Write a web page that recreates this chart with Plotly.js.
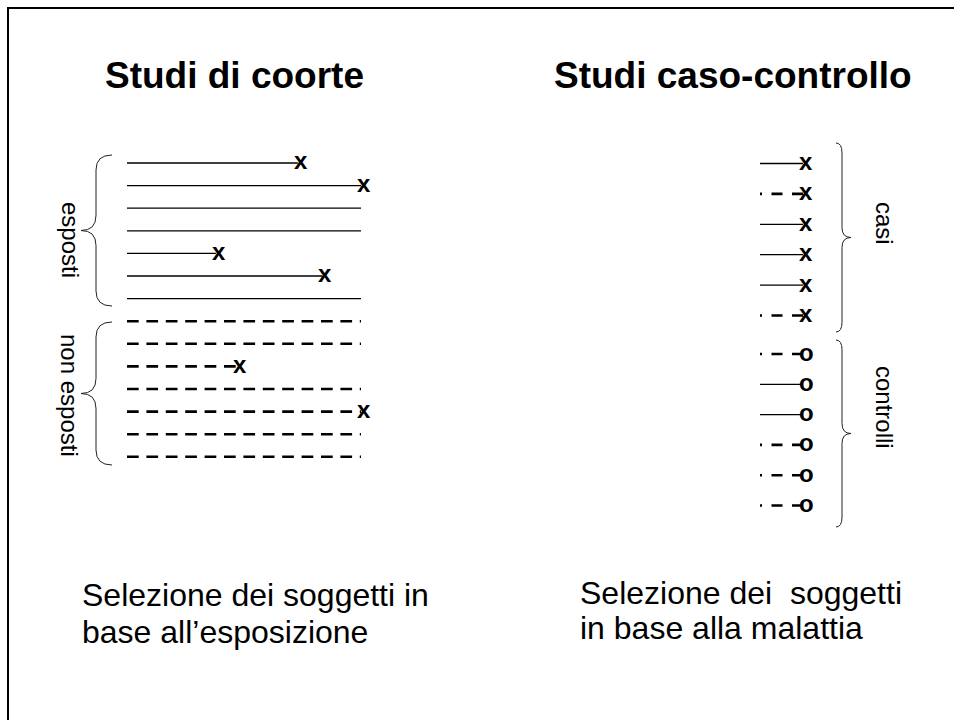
<!DOCTYPE html>
<html><head><meta charset="utf-8">
<script src="https://cdn.plot.ly/plotly-3.0.1.min.js"></script>
<style>html,body{margin:0;padding:0;background:#fff}#chart{width:954px;height:720px}</style>
</head><body><div id="chart"></div>
<script>
// ---------------- data ----------------
const titles = ['Studi di coorte', 'Studi caso-controllo'];
// cohort study: follow-up time (0-10) of each subject and whether the disease occurred
const exposedFollowUp   = [7.3, 10, 10, 10, 3.8, 8.35, 10];
const exposedEvent      = [1, 1, 0, 0, 1, 1, 0];
const unexposedFollowUp = [10, 10, 4.7, 10, 10, 10, 10];
const unexposedEvent    = [0, 0, 1, 0, 1, 0, 0];
const cohortLabels = ['esposti', 'non esposti'];
// case-control study: past exposure (1 = exposed) of cases and controls
const casesExposed    = [1, 0, 1, 1, 1, 0];
const controlsExposed = [0, 1, 1, 0, 0, 0];
const lookback = 1;
const ccLabels = ['casi', 'controlli'];
const eventSymbol = 'x', controlSymbol = 'o';
const captionLeft  = ['Selezione dei soggetti in', 'base all’esposizione'];
const captionRight = ['Selezione dei \u00a0soggetti', 'in base alla malattia'];

// ---------------- layout helpers ----------------
const W = 954, H = 720;
const px = v => v / W;
const py = v => 1 - v / H;
const FONT = 'Liberation Sans, Arial, sans-serif';
const SOLID_W = 1.3, DASH_W = 2.6;
const COHORT_DASH = '11.7px,7.7px', CC_DASH = '11px,9.5px';

const traces = [];
const annotations = [];

function markAnn(xref, yref, x, y, sym) {
  annotations.push({xref, yref, x, y, text: '<b>' + sym + '</b>', showarrow: false,
    xanchor: 'center', yanchor: 'middle', xshift: 3, yshift: 2,
    font: {family: FONT, size: 24, color: '#000'}});
}

// cohort rows
const cohortRows = [];
exposedFollowUp.forEach((t, i) => cohortRows.push({t, ev: exposedEvent[i], exp: true}));
unexposedFollowUp.forEach((t, i) => cohortRows.push({t, ev: unexposedEvent[i], exp: false}));
cohortRows.forEach((r, k) => {
  traces.push({type: 'scatter', mode: 'lines', x: [0, r.t], y: [k, k], xaxis: 'x', yaxis: 'y',
    line: {color: '#000', width: r.exp ? SOLID_W : DASH_W, dash: r.exp ? 'solid' : COHORT_DASH},
    cliponaxis: false, hoverinfo: 'skip'});
  if (r.ev) markAnn('x', 'y', r.t, k, eventSymbol);
});

// case-control rows (drawn from the selection point backwards in time)
function ccRows(arr, yaxis, sym) {
  arr.forEach((e, k) => {
    traces.push({type: 'scatter', mode: 'lines', x: [0, -lookback], y: [k, k], xaxis: 'x2', yaxis: yaxis,
      line: {color: '#000', width: e ? SOLID_W : DASH_W, dash: e ? 'solid' : CC_DASH},
      cliponaxis: false, hoverinfo: 'skip'});
    markAnn('x2', yaxis, 0, k, sym);
  });
}
ccRows(casesExposed, 'y2', eventSymbol);
ccRows(controlsExposed, 'y3', controlSymbol);

// braces
function bracePath(edge, spine, tip, top, bot, r) {
  const mid = (top + bot) / 2;
  const P = (x, y) => px(x).toFixed(5) + ',' + py(y).toFixed(5);
  return 'M' + P(edge, top) + ' Q' + P(spine, top) + ' ' + P(spine, top + r) +
    ' L' + P(spine, mid - r) + ' Q' + P(spine, mid) + ' ' + P(tip, mid) +
    ' Q' + P(spine, mid) + ' ' + P(spine, mid + r) +
    ' L' + P(spine, bot - r) + ' Q' + P(spine, bot) + ' ' + P(edge, bot);
}
const shapes = [
  {type: 'line', xref: 'paper', yref: 'paper', x0: px(8), x1: px(8), y0: py(8), y1: py(725), line: {color: '#000', width: 2}},
  {type: 'line', xref: 'paper', yref: 'paper', x0: px(7), x1: px(960), y0: py(8), y1: py(8), line: {color: '#000', width: 2}},
  {type: 'path', xref: 'paper', yref: 'paper', path: bracePath(112, 96, 81, 155, 306, 15), line: {color: '#222', width: 1}},
  {type: 'path', xref: 'paper', yref: 'paper', path: bracePath(112, 96, 81, 322, 465, 15), line: {color: '#222', width: 1}},
  {type: 'path', xref: 'paper', yref: 'paper', path: bracePath(836, 842, 851, 143, 332, 10), line: {color: '#222', width: 1}},
  {type: 'path', xref: 'paper', yref: 'paper', path: bracePath(836, 842, 851, 340, 527, 10), line: {color: '#222', width: 1}}
];

function textAnn(text, x, y, size, opts) {
  annotations.push(Object.assign({xref: 'paper', yref: 'paper', x: px(x), y: py(y), text, showarrow: false,
    xanchor: 'center', yanchor: 'middle', font: {family: FONT, size, color: '#000'}}, opts || {}));
}
textAnn('<b>' + titles[0] + '</b>', 234, 76, 37);
textAnn('<b>' + titles[1] + '</b>', 732.5, 76, 37);
textAnn(cohortLabels[0], 70, 240, 24, {textangle: 90});
textAnn(cohortLabels[1], 70, 395, 24, {textangle: 90});
textAnn(ccLabels[0], 885, 223, 24, {textangle: 90});
textAnn(ccLabels[1], 885, 407, 24, {textangle: 90});
textAnn(captionLeft[0], 80, 595, 32, {xanchor: 'left'});
textAnn(captionLeft[1], 80, 631.5, 32, {xanchor: 'left'});
textAnn(captionRight[0], 578, 593, 32, {xanchor: 'left'});
textAnn(captionRight[1], 578, 628, 32, {xanchor: 'left'});

const hidden = {visible: false, fixedrange: true, showgrid: false, zeroline: false};
const layout = {
  width: W, height: H, margin: {l: 0, r: 0, t: 0, b: 0, pad: 0},
  paper_bgcolor: '#fff', plot_bgcolor: 'rgba(0,0,0,0)', showlegend: false, hovermode: false,
  xaxis:  Object.assign({domain: [px(127), px(361)], range: [0, 10], anchor: 'y'}, hidden),
  yaxis:  Object.assign({domain: [py(468.1), py(151.7)], range: [13.5, -0.5], anchor: 'x'}, hidden),
  xaxis2: Object.assign({domain: [px(760), px(803)], range: [-lookback, 0], anchor: 'y2'}, hidden),
  yaxis2: Object.assign({domain: [py(330.7), py(148.3)], range: [5.5, -0.5], anchor: 'x2'}, hidden),
  yaxis3: Object.assign({domain: [py(520.6), py(338.9)], range: [5.5, -0.5], anchor: 'x2'}, hidden),
  shapes, annotations
};
Plotly.newPlot('chart', traces, layout, {staticPlot: true, displayModeBar: false});
</script></body></html>
